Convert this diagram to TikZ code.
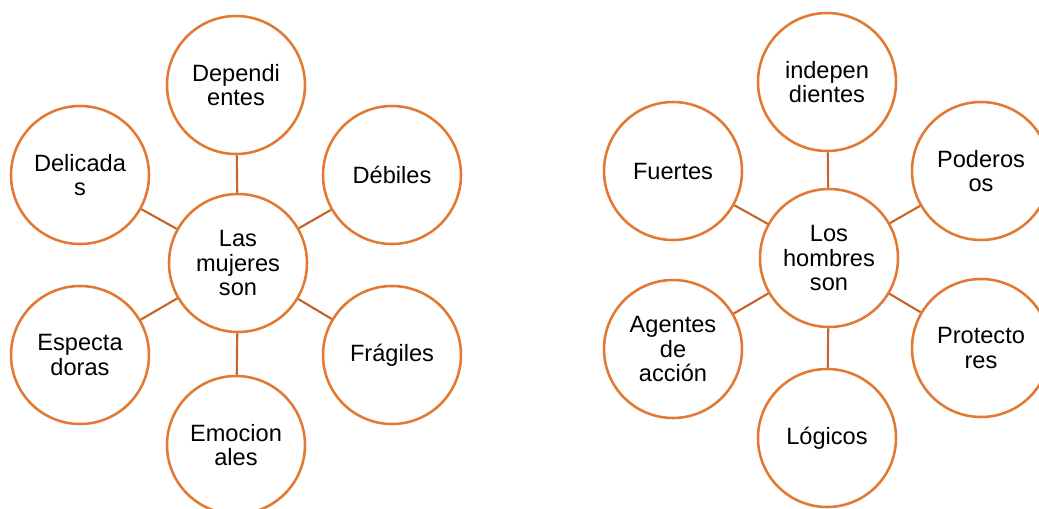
\documentclass[tikz,border=0pt]{standalone}
\usepackage{fontspec}
\setmainfont{Liberation Sans}
\definecolor{ringc}{RGB}{226,121,50}
\definecolor{linkc}{RGB}{196,102,42}
\begin{document}
\begin{tikzpicture}[x=0.75pt,y=-0.75pt,
  bub/.style={circle,draw=ringc,line width=1.9pt,fill=white,minimum size=103.5pt,inner sep=0pt,
    align=center,font=\fontsize{17.7pt}{18.6pt}\selectfont},
  link/.style={draw=linkc,line width=1.6pt}]
\useasboundingbox (0,0) rectangle (1039,508);
% left
\node[bub] (L) at (238,263) {Las\\mujeres\\son};
\node[bub] (L1) at (236,85) {Dependi\\entes};
\node[bub] (L2) at (80,175) {Delicada\\s};
\node[bub] (L3) at (392,175) {Débiles};
\node[bub] (L4) at (80,355) {Especta\\doras};
\node[bub] (L5) at (392,355) {Frágiles};
\node[bub] (L6) at (236,445) {Emocion\\ales};
\foreach \n in {L1,L2,L3,L4,L5,L6} \draw[link] (L) -- (\n);
% right
\node[bub] (R) at (829,258) {Los\\hombres\\son};
\node[bub] (R1) at (827,82) {indepen\\dientes};
\node[bub] (R2) at (673,171) {Fuertes};
\node[bub] (R3) at (981,171) {Poderos\\os};
\node[bub] (R4) at (673,349) {Agentes\\de\\acción};
\node[bub] (R5) at (981,348) {Protecto\\res};
\node[bub] (R6) at (827,438) {Lógicos};
\foreach \n in {R1,R2,R3,R4,R5,R6} \draw[link] (R) -- (\n);
\end{tikzpicture}
\end{document}
